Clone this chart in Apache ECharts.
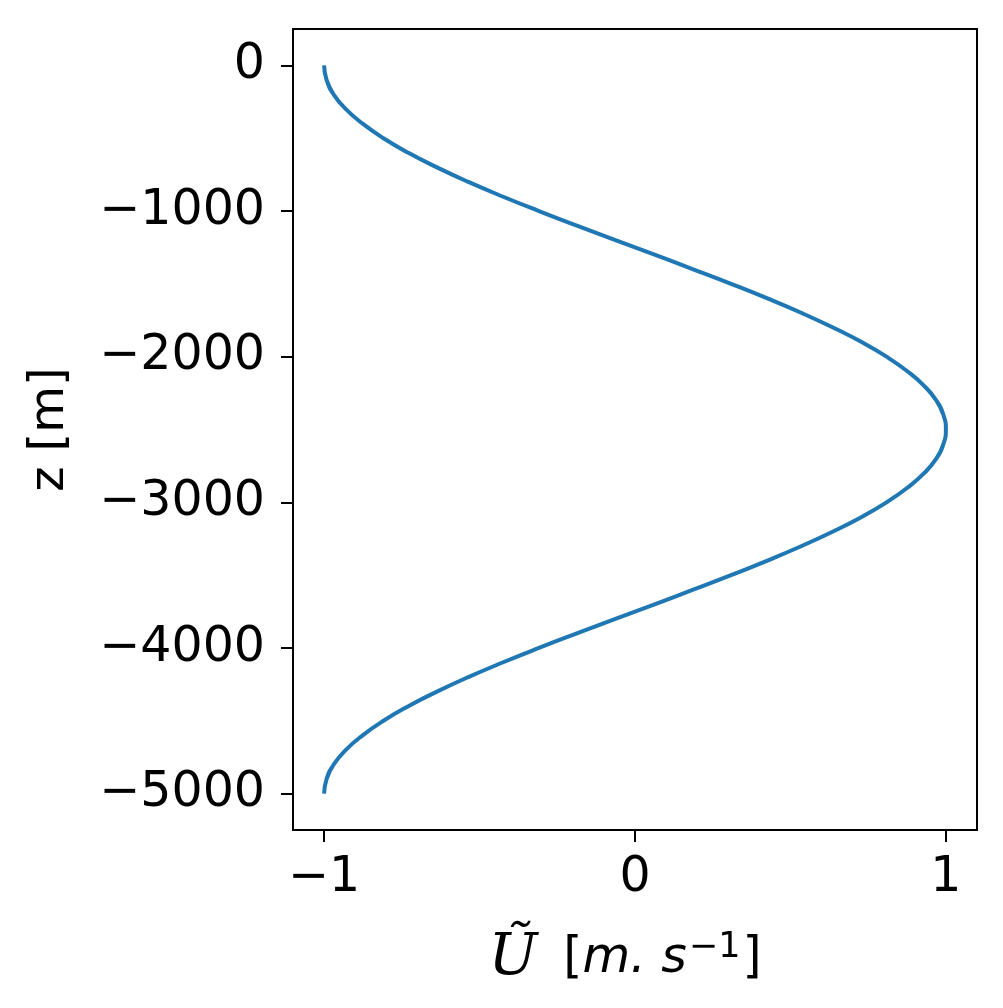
<!DOCTYPE html>
<html>
<head>
<meta charset="utf-8">
<script src="https://cdn.jsdelivr.net/npm/echarts@6/dist/echarts.min.js"></script>
<style>
  html, body { margin: 0; padding: 0; background: #fff; }
  #chart { width: 1003px; height: 1008px; }
</style>
</head>
<body>
<div id="chart"></div>
<script>
// depth z [m]
const depth = [
  0, -100, -200, -300, -400, -500, -600, -700, -800, -900,
  -1000, -1100, -1200, -1300, -1400, -1500, -1600, -1700, -1800, -1900,
  -2000, -2100, -2200, -2300, -2400, -2500, -2600, -2700, -2800, -2900,
  -3000, -3100, -3200, -3300, -3400, -3500, -3600, -3700, -3800, -3900,
  -4000, -4100, -4200, -4300, -4400, -4500, -4600, -4700, -4800, -4900, -5000
];
// velocity U~ [m/s]
const velocity = [
  -1, -0.992, -0.969, -0.93, -0.876, -0.809, -0.729, -0.637, -0.536, -0.426,
  -0.309, -0.187, -0.063, 0.063, 0.187, 0.309, 0.426, 0.536, 0.637, 0.729,
  0.809, 0.876, 0.93, 0.969, 0.992, 1, 0.992, 0.969, 0.93, 0.876,
  0.809, 0.729, 0.637, 0.536, 0.426, 0.309, 0.187, 0.063, -0.063, -0.187,
  -0.309, -0.426, -0.536, -0.637, -0.729, -0.809, -0.876, -0.93, -0.969, -0.992, -1
];
const xTicks = [-1, 0, 1];
const yTicks = [0, -1000, -2000, -3000, -4000, -5000];

const fmt = (v) => String(v).replace("-", "\u2212");

const chart = echarts.init(document.getElementById("chart"));

const option = {
  backgroundColor: "#fff",
  animation: false,
  textStyle: { fontFamily: "DejaVu Sans" },
  grid: {
    left: 293,
    top: 29,
    right: 26,
    bottom: 178,
    show: true,
    borderColor: "#000",
    borderWidth: 2,
    backgroundColor: "#fff",
  },
  xAxis: {
    type: "value",
    min: -1.1,
    max: 1.1,
    splitLine: { show: false },
    axisLine: { show: true, onZero: false, lineStyle: { color: "#000", width: 2 } },
    axisTick: { show: true, length: 12, lineStyle: { color: "#000", width: 2 }, customValues: xTicks },
    axisLabel: {
      customValues: xTicks,
      formatter: fmt,
      color: "#000",
      fontSize: 49,
      margin: 24,
      fontFamily: "DejaVu Sans",
    },
    name: "{u|Ũ}{b|[}{i|m. s}{sup|\u22121}{b|]}",
    nameLocation: "middle",
    nameGap: 100,
    nameTextStyle: {
      padding: [0, 20, 0, 0],
      rich: {
        u: { fontFamily: "DejaVu Serif", fontStyle: "italic", fontSize: 58, color: "#000", padding: [0, 26, 0, 0] },
        b: { fontFamily: "DejaVu Sans", fontSize: 49, color: "#000" },
        i: { fontFamily: "DejaVu Sans", fontStyle: "italic", fontSize: 49, color: "#000" },
        sup: { fontFamily: "DejaVu Sans", fontSize: 35, color: "#000", verticalAlign: "top", padding: [0, 2, 22, 2] },
      },
    },
  },
  yAxis: {
    type: "value",
    min: -5250,
    max: 250,
    splitLine: { show: false },
    axisLine: { show: true, onZero: false, lineStyle: { color: "#000", width: 2 } },
    axisTick: { show: true, length: 12, lineStyle: { color: "#000", width: 2 }, customValues: yTicks },
    axisLabel: {
      customValues: yTicks,
      formatter: fmt,
      color: "#000",
      fontSize: 49,
      margin: 28,
      fontFamily: "DejaVu Sans",
    },
    name: "z [m]",
    nameLocation: "middle",
    nameGap: 218,
    nameTextStyle: { color: "#000", fontSize: 48, fontFamily: "DejaVu Sans" },
  },
  series: [
    {
      type: "line",
      data: depth.map((z, i) => [velocity[i], z]),
      smooth: 0.5,
      showSymbol: false,
      lineStyle: { color: "#1f77b4", width: 4, cap: "butt", join: "round" },
    },
  ],
};

chart.setOption(option);
</script>
</body>
</html>
